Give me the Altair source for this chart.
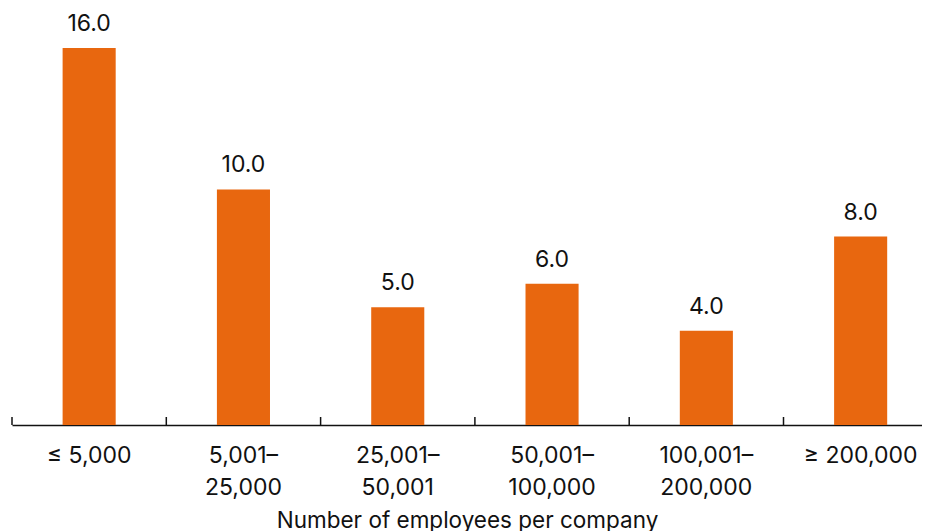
import altair as alt
import pandas as pd

categories = ["≤ 5,000", "5,001–\n25,000", "25,001–\n50,001", "50,001–\n100,000", "100,001–\n200,000", "≥ 200,000"]
values = [16.0, 10.0, 5.0, 6.0, 4.0, 8.0]

df = pd.DataFrame({"cat": categories, "val": values})

FONT = "Inter"
BAR = "#E8670F"
W = 910
PI = 0.656
PO = 0.2768
ALIGN = 0.5925

x_scale = alt.Scale(paddingInner=PI, paddingOuter=PO, align=ALIGN)
y_scale = alt.Scale(domain=[0, 16], nice=False, zero=True)

base = alt.Chart(df)

bars = base.mark_bar(color=BAR).encode(
    x=alt.X("cat:N", sort=categories, scale=x_scale,
            axis=alt.Axis(title="Number of employees per company", labelAngle=0,
                          labelExpr="split(datum.label, '\\n')",
                          labelFont=FONT, labelFontSize=23, labelColor="#111",
                          labelLineHeight=32, labelPadding=19, ticks=False,
                          domainColor="#111", domainWidth=1.5,
                          titleFont=FONT, titleFontSize=22.5, titleFontWeight="normal",
                          titleColor="#111", titlePadding=10)),
    y=alt.Y("val:Q", scale=y_scale, axis=None),
)

labels = base.mark_text(font=FONT, fontSize=23, color="#111", baseline="alphabetic", dy=-17).encode(
    x=alt.X("cat:N", sort=categories, scale=x_scale),
    y=alt.Y("val:Q", scale=y_scale),
    text=alt.Text("val:Q", format=".1f"),
)

step = W / (6 - PI + 2 * PO)
ticks = base.mark_rule(color="#111", strokeWidth=1.5, xOffset=-(step * PI) / 2).encode(
    x=alt.X("cat:N", sort=categories, scale=x_scale, bandPosition=0),
    y=alt.value(369),
    y2=alt.value(377),
)

chart = alt.layer(bars, labels, ticks).properties(
    width=W, height=377,
    autosize=alt.AutoSizeParams(type="none"),
    padding={"left": 4, "top": 40, "right": 0, "bottom": 106},
).configure_view(stroke=None)

chart.save("out.html", embed_options={"renderer": "svg", "actions": False})
